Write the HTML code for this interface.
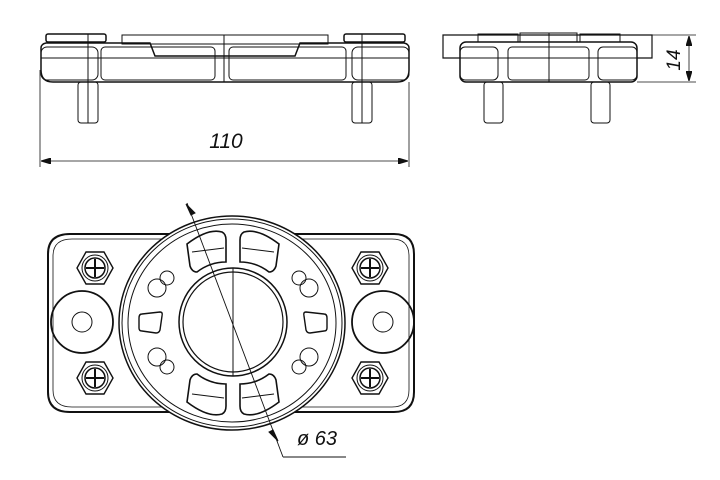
<!DOCTYPE html>
<html><head><style>html,body{margin:0;padding:0;background:#fff}svg{display:block}</style></head>
<body>
<svg width="720" height="480" viewBox="0 0 720 480" xmlns="http://www.w3.org/2000/svg" fill="none" stroke="#111" stroke-width="1">
<defs>
<marker id="ar" viewBox="0 0 10 6" refX="10" refY="3" markerWidth="10" markerHeight="6" orient="auto-start-reverse" markerUnits="userSpaceOnUse"><path d="M0,0 L10,3 L0,6 z" fill="#111"/></marker>
</defs>
<g>
<rect x="46" y="34" width="60" height="8" rx="2" stroke-width="1.5"/>
<rect x="344" y="34" width="61" height="8" rx="2" stroke-width="1.5"/>
<rect x="122" y="35" width="206" height="9"/>
<path d="M41,48 Q41,44 46,43 L150,43 L155,56 L295,56 L300,43 L404,43 Q409,44 409,48 L409,70 Q409,82 397,82 L53,82 Q41,82 41,70 Z" stroke-width="1.5"/>
<line x1="41" y1="58" x2="409" y2="58"/>
<rect x="101" y="47" width="114" height="33" rx="4"/>
<rect x="229" y="47" width="117" height="33" rx="4"/>
<rect x="41" y="47" width="57" height="33" rx="6"/>
<rect x="352" y="47" width="57" height="33" rx="6"/>
<line x1="224" y1="35" x2="224" y2="82"/>
<line x1="88" y1="34" x2="88" y2="123"/>
<line x1="362" y1="34" x2="362" y2="123"/>
<rect x="78" y="82" width="20" height="41" rx="3"/>
<rect x="352" y="82" width="20" height="41" rx="3"/>
<line x1="40" y1="70" x2="40" y2="167" stroke-width="0.8"/>
<line x1="409" y1="82" x2="409" y2="167" stroke-width="0.8"/>
<line x1="41" y1="161" x2="408" y2="161" stroke-width="0.8" marker-start="url(#ar)" marker-end="url(#ar)"/>
<text x="226" y="148" font-family="Liberation Sans, sans-serif" font-style="italic" font-size="21" fill="#111" stroke="none" text-anchor="middle">110</text>
</g>
<g>
<path d="M443,35 L652,35 L652,58 L443,58 Z" stroke-width="1.2"/>
<rect x="460" y="42" width="177" height="40" rx="6" fill="#fff" stroke-width="1.5"/>
<rect x="478" y="34" width="40" height="8"/>
<rect x="520" y="33" width="57" height="9"/>
<rect x="580" y="34" width="40" height="8"/>
<rect x="460" y="47" width="38" height="33" rx="5"/>
<rect x="508" y="47" width="81" height="33" rx="4"/>
<rect x="598" y="47" width="39" height="33" rx="5"/>
<line x1="443" y1="58" x2="652" y2="58"/>
<line x1="549" y1="33" x2="549" y2="82"/>
<rect x="484" y="82" width="19" height="41" rx="3"/>
<rect x="591" y="82" width="19" height="41" rx="3"/>
<line x1="652" y1="35" x2="696" y2="35" stroke-width="0.8"/>
<line x1="637" y1="82" x2="696" y2="82" stroke-width="0.8"/>
<line x1="689" y1="36" x2="689" y2="81" stroke-width="0.8" marker-start="url(#ar)" marker-end="url(#ar)"/>
<text x="0" y="0" transform="translate(680,60) rotate(-90)" font-family="Liberation Sans, sans-serif" font-style="italic" font-size="19" fill="#111" stroke="none" text-anchor="middle">14</text>
</g>
<g>
<path d="M70,234 L394,234 Q414,234 414,254 L414,392 Q414,412 394,412 L70,412 Q48,412 48,392 L48,254 Q48,234 70,234 Z" stroke-width="2"/>
<path d="M72,239 L392,239 Q409,239 409,256 L409,390 Q409,407 392,407 L72,407 Q53,407 53,390 L53,256 Q53,239 72,239 Z" stroke-width="0.8"/>
<ellipse cx="232" cy="323" rx="113" ry="107" fill="#fff" stroke-width="1.5"/>
<ellipse cx="232" cy="323" rx="110" ry="104"/>
<ellipse cx="232" cy="323" rx="104" ry="99"/>
<circle cx="82" cy="322" r="31" stroke-width="1.8"/>
<circle cx="82" cy="322" r="10"/>
<circle cx="383" cy="322" r="31" stroke-width="1.8"/>
<circle cx="383" cy="322" r="10"/>
<g id="nut">
<polygon points="113,268 104,284 86,284 77,268 86,252 104,252" stroke-width="1.4"/>
<circle cx="95" cy="268" r="13"/>
<circle cx="95" cy="268" r="10" stroke-width="1.5"/>
<line x1="86" y1="268" x2="104" y2="268" stroke-width="2"/>
<line x1="95" y1="259" x2="95" y2="277" stroke-width="2"/>
</g>
<use href="#nut" y="110"/>
<use href="#nut" x="275"/>
<use href="#nut" x="275" y="110"/>
<circle cx="233" cy="322" r="54" stroke-width="1.5"/>
<circle cx="233" cy="322" r="50" stroke-width="1.2"/>
<line x1="233" y1="268" x2="233" y2="376"/>
<path d="M187,244 Q208,228 222,232 Q226,234 226,240 L226,262 Q210,262 197,272 Q192,272 190,266 Z" stroke-width="1.6"/>
<path d="M279,244 Q258,228 244,232 Q240,234 240,240 L240,262 Q256,262 269,272 Q274,272 276,266 Z" stroke-width="1.6"/>
<path d="M187,402 Q208,418 222,414 Q226,412 226,406 L226,384 Q210,384 197,374 Q192,374 190,380 Z" stroke-width="1.6"/>
<path d="M279,402 Q258,418 244,414 Q240,412 240,406 L240,384 Q256,384 269,374 Q274,374 276,380 Z" stroke-width="1.6"/>
<line x1="192" y1="252" x2="224" y2="248"/><line x1="242" y1="248" x2="274" y2="252"/>
<line x1="192" y1="394" x2="224" y2="398"/><line x1="242" y1="398" x2="274" y2="394"/>
<path d="M142,314 L160,312 Q163,312 162,316 L160,330 Q159,333 156,333 L142,331 Q139,331 139,328 L139,318 Q139,314 142,314 Z" stroke-width="1.4"/>
<path d="M324,314 L306,312 Q303,312 304,316 L306,330 Q307,333 310,333 L324,331 Q327,331 327,328 L327,318 Q327,314 324,314 Z" stroke-width="1.4"/>
<circle cx="157" cy="288" r="9"/><circle cx="167" cy="278" r="7"/>
<circle cx="157" cy="357" r="9"/><circle cx="167" cy="367" r="7"/>
<circle cx="309" cy="288" r="9"/><circle cx="299" cy="278" r="7"/>
<circle cx="309" cy="357" r="9"/><circle cx="299" cy="367" r="7"/>
<line x1="187" y1="203" x2="283" y2="457" stroke-width="0.9"/>
<line x1="283" y1="457" x2="346" y2="457" stroke-width="0.9"/>
<path d="M191,215 L186,204 L195,213 Z" fill="#111"/>
<path d="M273,430 L278,441 L269,432 Z" fill="#111"/>
<text x="297" y="445" font-family="Liberation Sans, sans-serif" font-style="italic" font-size="20" fill="#111" stroke="none">ø 63</text>
</g>
</svg>
</body></html>
